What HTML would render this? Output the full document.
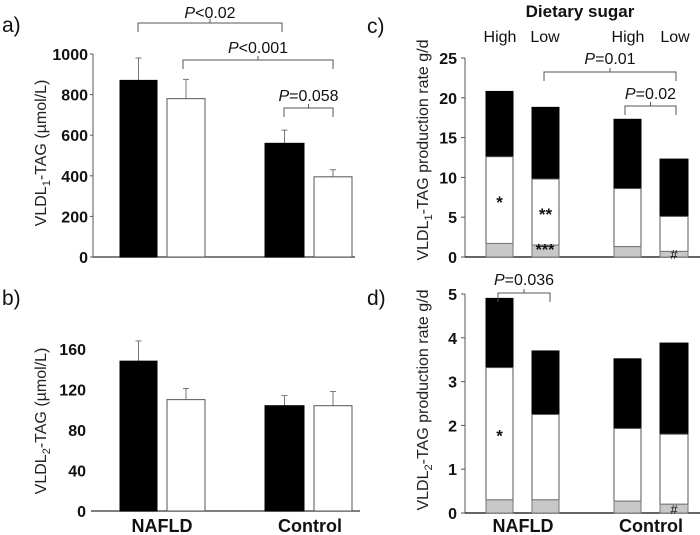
<!DOCTYPE html>
<html><head><meta charset="utf-8"><style>
body{margin:0;background:#fff;}
svg{display:block;font-family:"Liberation Sans",Arial,sans-serif;}
</style></head><body>
<svg id="fig" width="700" height="535" viewBox="0 0 700 535"></svg>
<script>
// Panel a data
const groupsAB = ["NAFLD","Control"];
const aMeans = [870, 780, 560, 395];
const aErr = [980, 875, 625, 430];
const aTicks = [0,200,400,600,800,1000];
// Panel b data
const bMeans = [148, 110, 104, 104];
const bErr = [168, 121, 114, 118];
const bTicks = [0,40,80,120,160];
// Panel c data (cumulative stack tops)
const sugarLabels = ["High","Low","High","Low"];
const cGray = [1.7, 1.5, 1.3, 0.7];
const cWhite = [12.6, 9.8, 8.6, 5.1];
const cBlack = [20.8, 18.8, 17.3, 12.3];
const cTicks = [0,5,10,15,20,25];
const cMarks = ["*","**","",""];
// Panel d data
const dGray = [0.3, 0.3, 0.27, 0.2];
const dWhite = [3.32, 2.25, 1.93, 1.8];
const dBlack = [4.9, 3.7, 3.52, 3.88];
const dTicks = [0,1,2,3,4,5];

const NS="http://www.w3.org/2000/svg";
const svg=document.getElementById('fig');
function el(tag,attrs,parent){const e=document.createElementNS(NS,tag);for(const k in attrs)e.setAttribute(k,attrs[k]);(parent||svg).appendChild(e);return e;}
function txt(x,y,s,o,p){const t=el('text',Object.assign({x:x,y:y,'font-size':14,fill:'#111'},o||{}),p);t.textContent=s;return t;}
function lin(a,b,min,max){return v=>a+(v-min)/(max-min)*(b-a);}

const barXab=[[120,157],[167,205],[265,304],[314,352]];
const barXcd=[[486,513],[532,559],[614,641],[660,688]];

function barPanel(name,y,ticks,max,means,err,axisX,axisEnd,showV){
  const g=el('g',{});
  
  
  ticks.forEach(t=>{
    const tt=txt(axisX-5,y(t)+6,String(t),{'text-anchor':'end','font-weight':'bold','font-size':16},g);
    
    
    if(showV) el('line',{x1:axisX-3,x2:axisX,y1:y(t),y2:y(t),stroke:'#555'},g);
  });
  if(showV) el('line',{x1:axisX,x2:axisX,y1:y(max),y2:y(0),stroke:'#555'},g);
  el('line',{x1:axisX,x2:axisEnd,y1:y(0),y2:y(0),stroke:'#555','stroke-width':1.5},g);
  means.forEach((m,i)=>{
    const [x0,x1]=barXab[i];const cx=(x0+x1)/2;
    el('line',{x1:cx,x2:cx,y1:y(err[i]),y2:y(m),stroke:'#777'},g);
    el('line',{x1:cx-3,x2:cx+3,y1:y(err[i]),y2:y(err[i]),stroke:'#777'},g);
    const r=el('rect',{x:x0,y:y(m),width:x1-x0,height:y(0)-y(m),fill:i%2?'#fff':'#000',stroke:i%2?'#555':'#000'},g);
    
    
  });
  return g;
}
function stackPanel(name,y,ticks,max,gray,white,black,axisX,marks){
  const g=el('g',{});
  
  
  ticks.forEach(t=>{
    const tt=txt(axisX-8,y(t)+6,String(t),{'text-anchor':'end','font-weight':'bold','font-size':16},g);
    
    
    el('line',{x1:axisX-4,x2:axisX,y1:y(t),y2:y(t),stroke:'#555'},g);
  });
  el('line',{x1:axisX,x2:axisX,y1:y(max),y2:y(0),stroke:'#555'},g);
  el('line',{x1:axisX,x2:700,y1:y(0),y2:y(0),stroke:'#333','stroke-width':1.5},g);
  gray.forEach((v,i)=>{
    const [x0,x1]=barXcd[i];const w=x1-x0;
    const rb=el('rect',{x:x0,y:y(black[i]),width:w,height:y(white[i])-y(black[i]),fill:'#000',stroke:'#000'},g);
    
    const rw=el('rect',{x:x0,y:y(white[i]),width:w,height:y(v)-y(white[i]),fill:'#fff',stroke:'#555'},g);
    
    const rg=el('rect',{x:x0,y:y(v),width:w,height:y(0)-y(v),fill:'#c8c8c8',stroke:'#777'},g);
    
    if(marks[i]){const m=txt((x0+x1)/2,(y(white[i])+y(v))/2+8,marks[i],{'text-anchor':'middle','font-size':17,'font-weight':'bold'},g);
      }
  });
  return g;
}
function bracket(x0,x1,y,label,ly,name){
  const g=el('g',{});
  
  
  el('path',{d:`M${x0},${y+9}V${y}H${x1}V${y+9}M${(x0+x1)/2},${y}v-4`,fill:'none',stroke:'#555'},g);
  const t=el('text',{x:(x0+x1)/2,y:ly,'text-anchor':'middle','font-size':16,fill:'#111'},g);
  const i=el('tspan',{'font-style':'italic'},t);i.textContent='P';
  const r=el('tspan',{},t);r.textContent=label;
}

// Panel a
const ya=lin(257,54,0,1000);
barPanel('panel-a',ya,aTicks,1000,aMeans,aErr,93,355,true);
bracket(138,282,23,'<0.02',18,'bracket-p002');
bracket(183,333,60,'<0.001',53,'bracket-p0001');
bracket(284,333,108,'=0.058',101,'bracket-p0058');
// Panel b
const yb=lin(511,349,0,160);
barPanel('panel-b',yb,bTicks,160,bMeans,bErr,91,360,false);
// Panel c
const yc=lin(257,58,0,25);
stackPanel('panel-c',yc,cTicks,25,cGray,cWhite,cBlack,465,cMarks);
bracket(544,676,72,'=0.01',64,'bracket-p001');
bracket(625,676,106,'=0.02',99,'bracket-p002c');
txt(545,255,'***',{'text-anchor':'middle','font-size':16,'font-weight':'bold'});
txt(674,259,'#',{'text-anchor':'middle','font-size':13});
// Panel d
const yd=lin(513,294,0,5);
stackPanel('panel-d',yd,dTicks,5,dGray,dWhite,dBlack,465,["*","","",""]);
bracket(498,550,293,'=0.036',285,'bracket-p0036');
txt(674,514,'#',{'text-anchor':'middle','font-size':13});

// Panel labels
[['a)',2,32],['b)',2,305],['c)',367,33],['d)',367,305]].forEach(p=>{
  const t=txt(p[1],p[2],p[0],{'font-size':21});
  
});
// Title and sugar labels
const title=txt(580,17,'Dietary sugar',{'text-anchor':'middle','font-weight':'bold','font-size':17});

sugarLabels.forEach((s,i)=>{
  const cx=[500,545,628,675][i];
  const t=txt(cx,42,s,{'text-anchor':'middle','font-size':16});
  
});
// x group labels
groupsAB.forEach((s,i)=>{
  const t=txt([162,310][i],532,s,{'text-anchor':'middle','font-weight':'bold','font-size':18});
  
  const t2=txt([523,651][i],532,s,{'text-anchor':'middle','font-weight':'bold','font-size':18});
  
});
// Y axis titles
function ytitle(x,y,pre,sub,post,name){
  const t=el('text',{x:0,y:0,transform:`translate(${x},${y}) rotate(-90)`,'text-anchor':'middle','font-size':16,fill:'#222'});
  
  const a=el('tspan',{},t);a.textContent=pre;
  const b=el('tspan',{'font-size':11,dy:4},t);b.textContent=sub;
  const c=el('tspan',{dy:-4},t);c.textContent=post;
}
ytitle(46,153,'VLDL','1','-TAG (µmol/L)','y-axis-title-a');
ytitle(46,421,'VLDL','2','-TAG (µmol/L)','y-axis-title-b');
ytitle(428,150,'VLDL','1','-TAG production rate g/d','y-axis-title-c');
ytitle(428,400,'VLDL','2','-TAG production rate g/d','y-axis-title-d');
</script>
</body></html>
